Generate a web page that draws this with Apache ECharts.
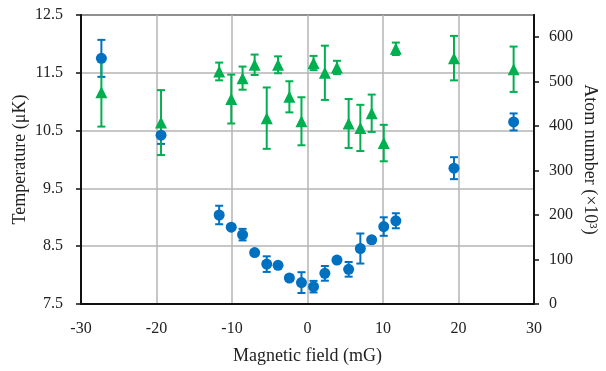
<!DOCTYPE html>
<html>
<head>
<meta charset="utf-8">
<script src="https://cdn.jsdelivr.net/npm/echarts@6/dist/echarts.min.js"></script>
<style>html,body{margin:0;padding:0;background:#fff}#c{width:606px;height:371px}</style>
</head>
<body>
<div id="c"></div>
<script>
// Magnetic field (mG)
const field = [-27.3, -19.4, -11.7, -10.1, -8.6, -7.0, -5.4, -3.9, -2.4, -0.8, 0.8, 2.3, 3.9, 5.45, 7.0, 8.5, 10.1, 11.7, 19.4, 27.3];
// Temperature (µK) and its error
const temperature = [11.75, 10.42, 9.04, 8.83, 8.70, 8.39, 8.19, 8.17, 7.95, 7.87, 7.80, 8.03, 8.26, 8.10, 8.46, 8.61, 8.84, 8.94, 9.85, 10.65];
const temperatureErr = [0.32, 0.15, 0.16, 0.04, 0.10, 0.04, 0.135, 0.04, 0.05, 0.18, 0.10, 0.127, 0.04, 0.127, 0.26, 0.05, 0.16, 0.13, 0.19, 0.147];
// Atom number (×10³) and its error
const atoms = [476, 408, 523, 461, 508, 538, 418, 538, 466, 411, 542, 520, 532, 406, 396, 429, 362, 574, 553, 528];
const atomsErr = [77, 73, 20, 55, 26, 23, 69, 19, 35, 54, 16, 61, 15, 55, 52, 42, 41, 14, 50, 51];
// Tick labels
const leftTicks = [7.5, 8.5, 9.5, 10.5, 11.5, 12.5];
const rightTicks = [0, 100, 200, 300, 400, 500, 600];
const xTicks = [-30, -20, -10, 0, 10, 20, 30];

const BLUE = '#0070C0';
const GREEN = '#00B050';
const FONT = 'Liberation Serif';

function errData(xs, ys, es) {
  return xs.map((x, i) => [x, ys[i] - es[i], ys[i] + es[i]]);
}
function errRender(color) {
  return function (params, api) {
    const x = api.value(0);
    const lo = api.coord([x, api.value(1)]);
    const hi = api.coord([x, api.value(2)]);
    const hw = 4;
    const st = { stroke: color, lineWidth: 2 };
    return {
      type: 'group',
      children: [
        { type: 'line', shape: { x1: lo[0], y1: lo[1], x2: hi[0], y2: hi[1] }, style: st },
        { type: 'line', shape: { x1: lo[0] - hw, y1: lo[1], x2: lo[0] + hw, y2: lo[1] }, style: st },
        { type: 'line', shape: { x1: hi[0] - hw, y1: hi[1], x2: hi[0] + hw, y2: hi[1] }, style: st }
      ]
    };
  };
}

const chart = echarts.init(document.getElementById('c'), null, { renderer: 'canvas' });
chart.setOption({
  animation: false,
  textStyle: { fontFamily: FONT },
  grid: { left: 81, right: 72, top: 15, bottom: 67, outerBoundsMode: 'none', containLabel: false, show: true, borderColor: '#222', borderWidth: 2, backgroundColor: 'transparent' },
  xAxis: {
    type: 'value', min: -30, max: 30, interval: 10,
    name: 'Magnetic field (mG)', nameLocation: 'middle', nameGap: 43, nameMoveOverlap: false,
    nameTextStyle: { fontFamily: FONT, fontSize: 18, color: '#222' },
    axisLine: { show: true, onZero: false, lineStyle: { color: '#111', width: 2 } },
    axisTick: { show: false },
    axisLabel: { fontFamily: FONT, fontSize: 16, color: '#222', margin: 17, customValues: xTicks },
    splitLine: { show: true, lineStyle: { color: '#b4b4b4', width: 1.5 } }
  },
  yAxis: [
    {
      type: 'value', min: 7.5, max: 12.5, interval: 1,
      name: 'Temperature (μK)', nameLocation: 'middle', nameGap: 52, nameRotate: 90, nameMoveOverlap: false,
      nameTextStyle: { fontFamily: FONT, fontSize: 18, color: '#222' },
      axisLine: { show: true, onZero: false, lineStyle: { color: '#111', width: 2 } },
      axisTick: { show: true, length: 5, lineStyle: { color: '#111', width: 1.5 } },
      axisLabel: { fontFamily: FONT, fontSize: 16, color: '#222', margin: 18, customValues: leftTicks, formatter: v => v.toFixed(1) },
      splitLine: { show: true, lineStyle: { color: '#b4b4b4', width: 1.5 } }
    },
    {
      type: 'value', min: 0, max: 650, interval: 100, position: 'right',
      name: 'Atom number (×10³)', nameLocation: 'middle', nameGap: 47, nameRotate: -90, nameMoveOverlap: false,
      nameTextStyle: { fontFamily: FONT, fontSize: 18, color: '#222' },
      axisLine: { show: true, onZero: false, lineStyle: { color: '#111', width: 2 } },
      axisTick: { show: true, length: 5, customValues: rightTicks, lineStyle: { color: '#111', width: 1.5 } },
      axisLabel: { fontFamily: FONT, fontSize: 16, color: '#222', margin: 15, customValues: rightTicks },
      splitLine: { show: false }
    }
  ],
  series: [
    { type: 'custom', yAxisIndex: 0, data: errData(field, temperature, temperatureErr), renderItem: errRender(BLUE), encode: { x: 0, y: [1, 2] }, z: 2 },
    { type: 'custom', yAxisIndex: 1, data: errData(field, atoms, atomsErr), renderItem: errRender(GREEN), encode: { x: 0, y: [1, 2] }, z: 3 },
    { type: 'scatter', yAxisIndex: 0, data: field.map((x, i) => [x, temperature[i]]), symbol: 'circle', symbolSize: 11, itemStyle: { color: BLUE, opacity: 1 }, z: 4 },
    { type: 'scatter', yAxisIndex: 1, data: field.map((x, i) => [x, atoms[i]]), symbol: 'triangle', symbolSize: [12, 12], itemStyle: { color: GREEN, opacity: 1 }, z: 5 }
  ]
});
</script>
</body>
</html>
